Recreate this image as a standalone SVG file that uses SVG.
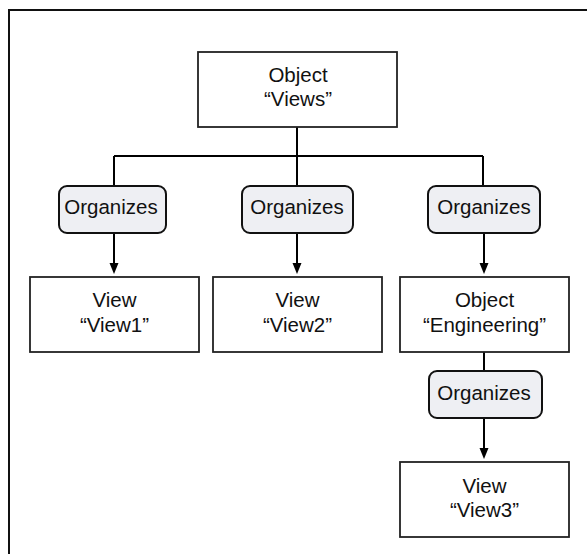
<svg xmlns="http://www.w3.org/2000/svg" width="587" height="554" viewBox="0 0 587 554">
<style>
.frame{fill:none;stroke:#111;stroke-width:2}
.obj{fill:#fff;stroke:#222;stroke-width:1.8}
.ref{fill:#eeeff3;stroke:#111;stroke-width:2}
.t{font-family:"Liberation Sans",Arial,sans-serif;font-size:20.5px;fill:#111;text-anchor:middle}
.c{fill:none;stroke:#000;stroke-width:2}
.ah{fill:#000}
</style>
<rect class="frame" x="9" y="10" width="600" height="600"/>
<g id="connectors">
<path class="c" d="M297,127 V156 M114,156 H483 M114,156 V186 M297,156 V186 M483,156 V186"/>
<path class="c" d="M114,233 V264"/>
<path class="ah" d="M109.5,263 L118.5,263 L114,274 Z"/>
<path class="c" d="M297,233 V264"/>
<path class="ah" d="M292.5,263 L301.5,263 L297,274 Z"/>
<path class="c" d="M484,233 V264"/>
<path class="ah" d="M479.5,263 L488.5,263 L484,274 Z"/>
<path class="c" d="M484,352 V371"/>
<path class="c" d="M484,418 V449"/>
<path class="ah" d="M479.5,448 L488.5,448 L484,459 Z"/>
</g>
<g id="views">
<rect class="obj" x="198" y="52" width="199" height="75"/>
<text class="t" x="298" y="82">Object</text>
<text class="t" x="298" y="106">“Views”</text>
</g>
<g id="org1">
<rect class="ref" x="59" y="186" width="107" height="47" rx="8"/>
<text class="t" x="111" y="214">Organizes</text>
</g>
<g id="org2">
<rect class="ref" x="242" y="186" width="111" height="47" rx="8"/>
<text class="t" x="297" y="214">Organizes</text>
</g>
<g id="org3">
<rect class="ref" x="428" y="186" width="112" height="47" rx="8"/>
<text class="t" x="484" y="214">Organizes</text>
</g>
<g id="view1">
<rect class="obj" x="30" y="277" width="169" height="75"/>
<text class="t" x="114.5" y="307">View</text>
<text class="t" x="114.5" y="332">“View1”</text>
</g>
<g id="view2">
<rect class="obj" x="213" y="277" width="169" height="75"/>
<text class="t" x="297.5" y="307">View</text>
<text class="t" x="297.5" y="332">“View2”</text>
</g>
<g id="engineering">
<rect class="obj" x="400" y="277" width="169" height="75"/>
<text class="t" x="484.5" y="307">Object</text>
<text class="t" x="484.5" y="332">“Engineering”</text>
</g>
<g id="org4">
<rect class="ref" x="429" y="371" width="113" height="47" rx="8"/>
<text class="t" x="484" y="400">Organizes</text>
</g>
<g id="view3">
<rect class="obj" x="400" y="462" width="169" height="75"/>
<text class="t" x="484.5" y="493">View</text>
<text class="t" x="484.5" y="517">“View3”</text>
</g>
</svg>
